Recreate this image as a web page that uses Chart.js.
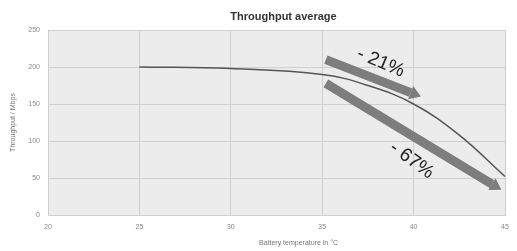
<!DOCTYPE html>
<html>
<head>
<meta charset="utf-8">
<script src="https://cdn.jsdelivr.net/npm/chart.js@4.4.0/dist/chart.umd.min.js"></script>
<style>
  html, body { margin: 0; padding: 0; background: #fff; }
  #wrap { width: 517px; height: 251px; }
</style>
</head>
<body>
<div id="wrap"><canvas id="tp_chart"></canvas></div>
<script>
Chart.defaults.font.family = 'Liberation Sans, Arial, sans-serif';

// battery temperature (°C) and average throughput (Mbps)
const temps = [25, 30, 35, 37.5, 40, 42.5, 45];
const throughput = [200, 198, 190, 175, 150, 108, 52];

const chartTitle = 'Throughput average';
const xTitle = 'Battery temperature in °C';
const yTitle = 'Throughput / Mbps';

// annotation arrows, in data units: [x0, y0, x1, y1]
const arrows = [
  [35.2, 210, 40.4, 160],
  [35.2, 178, 44.8, 34],
];
// labels for the arrows: [text, x, y, angle in degrees]
const arrowLabels = [
  ['- 21%', 38.2, 206, 23],
  ['- 67%', 39.9, 74, 36],
];

const plotBg = {
  id: 'plotBg',
  beforeDraw(chart) {
    const { ctx, chartArea: a } = chart;
    ctx.save();
    ctx.fillStyle = '#ececec';
    ctx.fillRect(a.left, a.top, a.right - a.left, a.bottom - a.top);
    ctx.restore();
  },
  afterDraw(chart) {
    const { ctx, chartArea: a } = chart;
    ctx.save();
    ctx.textAlign = 'center';
    ctx.textBaseline = 'middle';
    ctx.fillStyle = '#333';
    ctx.font = 'bold 11px Liberation Sans, Arial, sans-serif';
    ctx.fillText(chartTitle, (a.left + a.right) / 2 + 7, 17);
    ctx.fillStyle = '#777';
    ctx.font = '7px Liberation Sans, Arial, sans-serif';
    ctx.fillText(xTitle, (a.left + a.right) / 2 + 22, 243);
    ctx.restore();
  },
};

const arrowPlugin = {
  id: 'arrowPlugin',
  afterDatasetsDraw(chart) {
    const { ctx, scales } = chart;
    const x = scales.x, y = scales.y;
    ctx.save();
    arrows.forEach(a => {
      const x0 = x.getPixelForValue(a[0]), y0 = y.getPixelForValue(a[1]);
      const x1 = x.getPixelForValue(a[2]), y1 = y.getPixelForValue(a[3]);
      const ang = Math.atan2(y1 - y0, x1 - x0);
      const head = 11;
      const bx = x1 - head * Math.cos(ang), by = y1 - head * Math.sin(ang);
      ctx.strokeStyle = '#7d7d7d';
      ctx.fillStyle = '#7d7d7d';
      ctx.lineWidth = 9;
      ctx.lineCap = 'butt';
      ctx.beginPath();
      ctx.moveTo(x0, y0);
      ctx.lineTo(bx, by);
      ctx.stroke();
      ctx.beginPath();
      ctx.moveTo(x1, y1);
      ctx.lineTo(bx + 7 * Math.sin(ang), by - 7 * Math.cos(ang));
      ctx.lineTo(bx - 7 * Math.sin(ang), by + 7 * Math.cos(ang));
      ctx.closePath();
      ctx.fill();
    });
    arrowLabels.forEach(l => {
      ctx.save();
      ctx.translate(x.getPixelForValue(l[1]), y.getPixelForValue(l[2]));
      ctx.rotate(l[3] * Math.PI / 180);
      ctx.fillStyle = '#222';
      ctx.font = '19px Liberation Sans, Arial, sans-serif';
      ctx.textAlign = 'center';
      ctx.textBaseline = 'middle';
      ctx.fillText(l[0], 0, 0);
      ctx.restore();
    });
    ctx.restore();
  },
};

const data_tp = {
  datasets: [{
    label: 'Throughput',
    data: temps.map((t, i) => ({ x: t, y: throughput[i] })),
    borderColor: '#555',
    borderWidth: 1.5,
    pointRadius: 0,
    tension: 0.4,
  }],
};

const options_tp = {
  responsive: true,
  maintainAspectRatio: false,
  animation: false,
  layout: { padding: { left: 0, right: 12, top: 30, bottom: 0 } },
  scales: {
    x: {
      type: 'linear',
      min: 20,
      max: 45,
      ticks: { stepSize: 5, color: '#888', font: { size: 7 }, padding: 8 },
      grid: { color: '#cfcfcf', drawTicks: false },
      border: { color: '#cfcfcf' },
      afterFit(s) { s.height = 36; },
    },
    y: {
      min: 0,
      max: 250,
      ticks: { stepSize: 50, color: '#888', font: { size: 7 }, padding: 8 },
      grid: { color: '#cfcfcf', drawTicks: false },
      border: { color: '#cfcfcf' },
      title: { display: true, text: yTitle, color: '#777', font: { size: 7 }, padding: { top: 9, bottom: 0 } },
      afterFit(s) { s.width = 48; },
    },
  },
  plugins: {
    legend: { display: false },
    tooltip: { enabled: false },
  },
};

const ctx_tp = document.getElementById('tp_chart');
const chart_tp = new Chart(ctx_tp, {
  type: 'line',
  data: data_tp,
  options: options_tp,
  plugins: [plotBg, arrowPlugin],
});
</script>
</body>
</html>
